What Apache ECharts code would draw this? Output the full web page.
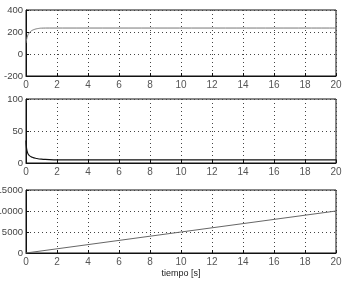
<!DOCTYPE html>
<html>
<head>
<meta charset="utf-8">
<script src="https://cdn.jsdelivr.net/npm/echarts@6/dist/echarts.min.js"></script>
<style>
  html, body { margin: 0; padding: 0; background: #fff; }
  #chart { width: 347px; height: 283px; }
</style>
</head>
<body>
<div id="chart"></div>
<script>
// panel 1
const t1 = [0, 0.05, 0.1, 0.2, 0.3, 0.4, 0.6, 0.8, 1.0, 1.5, 20]
const v1 = [100, 140, 165, 190, 205, 215, 226, 232, 235, 236, 236]
// panel 2
const t2 = [0, 0.03, 0.1, 0.2, 0.4, 0.7, 1.0, 1.8, 20]
const v2 = [35, 24, 16, 12, 9, 7, 6, 5, 5]
// panel 3
const t3 = [0, 20]
const v3 = [0, 10000]

const yRanges = [[-200, 400, 200], [0, 100, 50], [0, 15000, 5000]]
const xTitle = 'tiempo [s]'

const font = 'Liberation Sans, Arial, sans-serif'
const gridTops = [10, 99, 190]
const gridHeights = [66, 64, 63]

const pairs = (t, v) => t.map((x, i) => [x, v[i]])

const chart = echarts.init(document.getElementById('chart'))
const option = {
  animation: false,
  backgroundColor: '#fff',
  grid: gridTops.map((top, i) => ({
    left: 26, right: 11, top: top, height: gridHeights[i],
    containLabel: false, outerBoundsMode: 'none',
    show: true, borderColor: '#111', borderWidth: 1, backgroundColor: 'transparent'
  })),
  xAxis: [0, 1, 2].map(i => ({
    type: 'value', gridIndex: i, min: 0, max: 20, interval: 2,
    name: i === 2 ? xTitle : '',
    nameLocation: 'middle', nameGap: 16,
    nameTextStyle: { fontSize: 9, color: '#222', fontFamily: font },
    axisLine: { show: true, onZero: false, lineStyle: { color: '#111', width: 1 } },
    axisTick: { show: true, inside: true, length: 3, lineStyle: { color: '#111' } },
    axisLabel: { fontSize: 10, color: '#555', margin: 4, fontFamily: font },
    splitLine: { show: true, lineStyle: { color: '#444', type: [1, 3], width: 1 } }
  })),
  yAxis: yRanges.map((r, i) => ({
    type: 'value', gridIndex: i, min: r[0], max: r[1], interval: r[2],
    axisLine: { show: true, lineStyle: { color: '#111', width: 1 } },
    axisTick: { show: true, inside: true, length: 3, lineStyle: { color: '#111' } },
    axisLabel: { fontSize: 9.5, color: '#444', margin: 3, fontFamily: font, formatter: v => String(v) },
    splitLine: { show: true, lineStyle: { color: '#444', type: [1, 3], width: 1 } }
  })),
  series: [
    { type: 'line', xAxisIndex: 0, yAxisIndex: 0, data: pairs(t1, v1), smooth: true,
      showSymbol: false, lineStyle: { color: '#777', width: 1 } },
    { type: 'line', xAxisIndex: 1, yAxisIndex: 1, data: pairs(t2, v2), smooth: true,
      showSymbol: false, lineStyle: { color: '#111', width: 1.2 } },
    { type: 'line', xAxisIndex: 2, yAxisIndex: 2, data: pairs(t3, v3),
      showSymbol: false, lineStyle: { color: '#666', width: 1 } }
  ]
}
chart.setOption(option)
</script>
</body>
</html>
